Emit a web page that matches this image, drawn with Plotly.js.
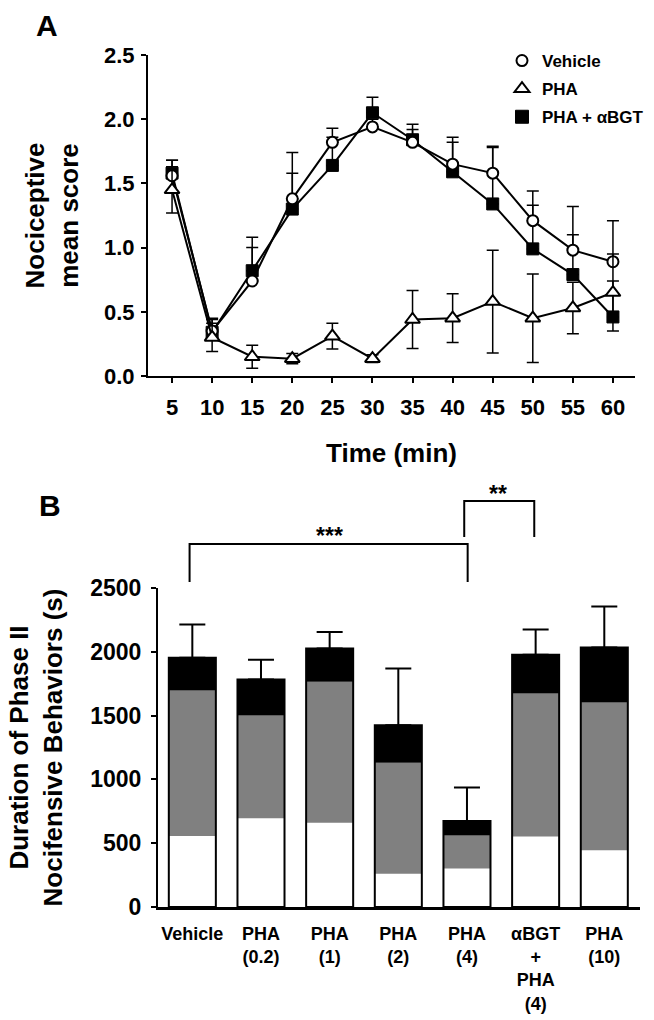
<!DOCTYPE html>
<html><head><meta charset="utf-8">
<script src="https://cdn.plot.ly/plotly-3.0.1.min.js"></script>
<style>html,body{margin:0;padding:0;background:#fff;}#chart{width:654px;height:1020px;}</style>
</head><body><div id="chart"></div>
<script>
// ---------- Panel A data ----------
const timeMin = [5,10,15,20,25,30,35,40,45,50,55,60];
const vehicleMean = [1.56,0.35,0.74,1.38,1.82,1.94,1.82,1.65,1.58,1.21,0.98,0.89];
const vehicleSem  = [0.12,0.10,0.26,0.36,0.11,0.06,0.10,0.21,0.21,0.23,0.34,0.32];
const phaMean = [1.45,0.30,0.15,0.135,0.31,0.135,0.44,0.45,0.58,0.45,0.53,0.65];
const phaSem  = [0.18,0.11,0.09,0.04,0.10,0.03,0.225,0.19,0.40,0.345,0.20,0.30];
const bgtMean = [1.58,0.34,0.82,1.30,1.64,2.05,1.84,1.59,1.34,0.99,0.79,0.46];
const bgtSem  = [0.10,0.10,0.26,0.28,0.22,0.12,0.12,0.23,0.44,0.34,0.31,0.28];
const legendNames = ['Vehicle','PHA','PHA + αBGT'];
const yTicksA = [0,0.5,1,1.5,2,2.5];

// ---------- Panel B data ----------
const groups = ['Vehicle','PHA<br>(0.2)','PHA<br>(1)','PHA<br>(2)','PHA<br>(4)','αBGT<br>+<br>PHA<br>(4)','PHA<br>(10)'];
const whiteSeg = [557,695,660,261,302,552,445];
const graySeg  = [1140,805,1105,870,258,1121,1158];
const blackSeg = [256,283,261,294,114,304,431];
const totalSem = [261,154,129,445,263,197,321];
const yTicksB = [0,500,1000,1500,2000,2500];

const W = 654, H = 1020;
const px = v => v / W;
const py = v => 1 - v / H;
const FONT = 'Liberation Sans, Arial, Helvetica, sans-serif';

const zeros = timeMin.map(() => 0);
const grayBase = whiteSeg.map((w) => w);
const blackBase = whiteSeg.map((w, i) => w + graySeg[i]);
const totals = blackBase.map((b, i) => b + blackSeg[i]);

const traces = [
  // Panel A
  {x: timeMin, y: bgtMean, type: 'scatter', mode: 'lines+markers', xaxis: 'x', yaxis: 'y', showlegend: false,
   line: {color: 'black', width: 2},
   marker: {symbol: 'square', size: 12, color: 'black', line: {color: 'black', width: 1}},
   error_y: {type: 'data', symmetric: false, array: bgtSem, arrayminus: zeros, color: 'black', thickness: 1.5, width: 6}},
  {x: timeMin, y: vehicleMean, type: 'scatter', mode: 'lines+markers', xaxis: 'x', yaxis: 'y', showlegend: false,
   line: {color: 'black', width: 2},
   marker: {symbol: 'circle', size: 11, color: 'white', line: {color: 'black', width: 2}},
   error_y: {type: 'data', symmetric: false, array: vehicleSem, arrayminus: zeros, color: 'black', thickness: 1.5, width: 6}},
  {x: timeMin, y: phaMean, type: 'scatter', mode: 'lines+markers', xaxis: 'x', yaxis: 'y', showlegend: false,
   line: {color: 'black', width: 2},
   marker: {symbol: 'triangle-up', size: 13, color: 'white', line: {color: 'black', width: 2}},
   error_y: {type: 'data', symmetric: true, array: phaSem, color: 'black', thickness: 1.5, width: 6}},
  // legend entries
  {x: [null], y: [null], type: 'scatter', mode: 'markers', name: legendNames[0], legendgroup: 'a', xaxis: 'x', yaxis: 'y',
   marker: {symbol: 'circle', size: 11, color: 'white', line: {color: 'black', width: 2}}},
  {x: [null], y: [null], type: 'scatter', mode: 'markers', name: legendNames[1], legendgroup: 'b', xaxis: 'x', yaxis: 'y',
   marker: {symbol: 'triangle-up', size: 13, color: 'white', line: {color: 'black', width: 2}}},
  {x: [null], y: [null], type: 'scatter', mode: 'markers', name: legendNames[2], legendgroup: 'c', xaxis: 'x', yaxis: 'y',
   marker: {symbol: 'square', size: 13, color: 'black', line: {color: 'black', width: 1}}},
  // Panel B
  {x: groups, y: whiteSeg, base: 0, type: 'bar', xaxis: 'x2', yaxis: 'y2', showlegend: false,
   marker: {color: 'white', line: {width: 0}}},
  {x: groups, y: graySeg, base: grayBase, type: 'bar', xaxis: 'x2', yaxis: 'y2', showlegend: false,
   marker: {color: '#808080', line: {width: 0}}},
  {x: groups, y: blackSeg, base: blackBase, type: 'bar', xaxis: 'x2', yaxis: 'y2', showlegend: false,
   marker: {color: 'black', line: {width: 0}}},
  {x: groups, y: totals, base: 0, type: 'bar', xaxis: 'x2', yaxis: 'y2', showlegend: false,
   marker: {color: 'rgba(0,0,0,0)', line: {color: 'black', width: 2}},
   error_y: {type: 'data', symmetric: false, array: totalSem, arrayminus: groups.map(() => 0), color: 'black', thickness: 2, width: 13}}
];

const axisCommon = {showgrid: false, zeroline: false, showline: true, linecolor: 'black', fixedrange: true};

const layout = {
  width: W, height: H,
  margin: {l: 0, r: 0, t: 0, b: 0, pad: 0},
  paper_bgcolor: 'white', plot_bgcolor: 'white',
  font: {family: FONT, color: 'black', weight: 'bold'},
  barmode: 'overlay', bargap: 0.315,
  showlegend: true,
  legend: {x: px(502), y: py(43), xanchor: 'left', yanchor: 'top', bgcolor: 'rgba(0,0,0,0)',
           font: {family: FONT, size: 17, weight: 'bold', color: 'black'},
           traceorder: 'grouped', tracegroupgap: 3, itemclick: false},
  xaxis: Object.assign({}, axisCommon, {
    domain: [px(148), px(635)], range: [2, 62.75], anchor: 'y',
    tickmode: 'array', tickvals: timeMin, ticks: 'outside', ticklen: 5, tickwidth: 2, tickcolor: 'black', linewidth: 2,
    ticklabelstandoff: 6,
    tickfont: {family: FONT, size: 22, weight: 'bold'},
    title: {text: 'Time (min)', font: {family: FONT, size: 26, weight: 'bold'}, standoff: 24}
  }),
  yaxis: Object.assign({}, axisCommon, {
    domain: [py(376), py(55)], range: [0, 2.5], anchor: 'x',
    tickmode: 'array', tickvals: yTicksA, tickformat: '.1f', ticks: 'outside', ticklen: 5, tickwidth: 2, tickcolor: 'black', linewidth: 2,
    ticklabelstandoff: 2,
    tickfont: {family: FONT, size: 22, weight: 'bold'},
    title: {text: 'Nociceptive<br>mean score', font: {family: FONT, size: 26, weight: 'bold'}, standoff: 18}
  }),
  xaxis2: Object.assign({}, axisCommon, {
    domain: [px(158), px(640)], range: [-0.5, 6.52], anchor: 'y2', type: 'category',
    ticks: '', linewidth: 3, ticklabelstandoff: 8,
    tickfont: {family: FONT, size: 18, weight: 'bold'}
  }),
  yaxis2: Object.assign({}, axisCommon, {
    domain: [py(907), py(588)], range: [0, 2500], anchor: 'x2',
    tickmode: 'array', tickvals: yTicksB, ticks: 'outside', ticklen: 5, tickwidth: 2, tickcolor: 'black', linewidth: 2,
    ticklabelstandoff: 5,
    tickfont: {family: FONT, size: 23, weight: 'bold'},
    title: {text: 'Duration of Phase II<br>Nocifensive Behaviors (s)', font: {family: FONT, size: 26, weight: 'bold'}, standoff: 20}
  }),
  annotations: [
    {text: 'A', xref: 'paper', yref: 'paper', x: px(47), y: py(25), showarrow: false, xanchor: 'center', yanchor: 'middle',
     font: {family: FONT, size: 30, weight: 'bold'}},
    {text: 'B', xref: 'paper', yref: 'paper', x: px(50), y: py(505), showarrow: false, xanchor: 'center', yanchor: 'middle',
     font: {family: FONT, size: 30, weight: 'bold'}},
    {text: '***', xref: 'x2', yref: 'paper', x: 2, y: py(536), showarrow: false, xanchor: 'center', yanchor: 'middle',
     font: {family: FONT, size: 23, weight: 'bold'}},
    {text: '**', xref: 'x2', yref: 'paper', x: 4.45, y: py(494), showarrow: false, xanchor: 'center', yanchor: 'middle',
     font: {family: FONT, size: 23, weight: 'bold'}}
  ]
};

// significance brackets (Vehicle vs PHA(4), PHA(4) vs αBGT+PHA(4))
function bracket(x0, x1, yTopPx, yEndPx) {
  return {type: 'path', xref: 'x2', yref: 'paper', line: {color: 'black', width: 2},
    path: 'M ' + x0 + ',' + py(yEndPx) + ' L ' + x0 + ',' + py(yTopPx) + ' L ' + x1 + ',' + py(yTopPx) + ' L ' + x1 + ',' + py(yEndPx)};
}
layout.shapes = [bracket(-0.04, 4.01, 544, 582), bracket(3.96, 4.98, 501, 537)];

Plotly.newPlot('chart', traces, layout, {displayModeBar: false, staticPlot: true});
</script>
</body></html>
